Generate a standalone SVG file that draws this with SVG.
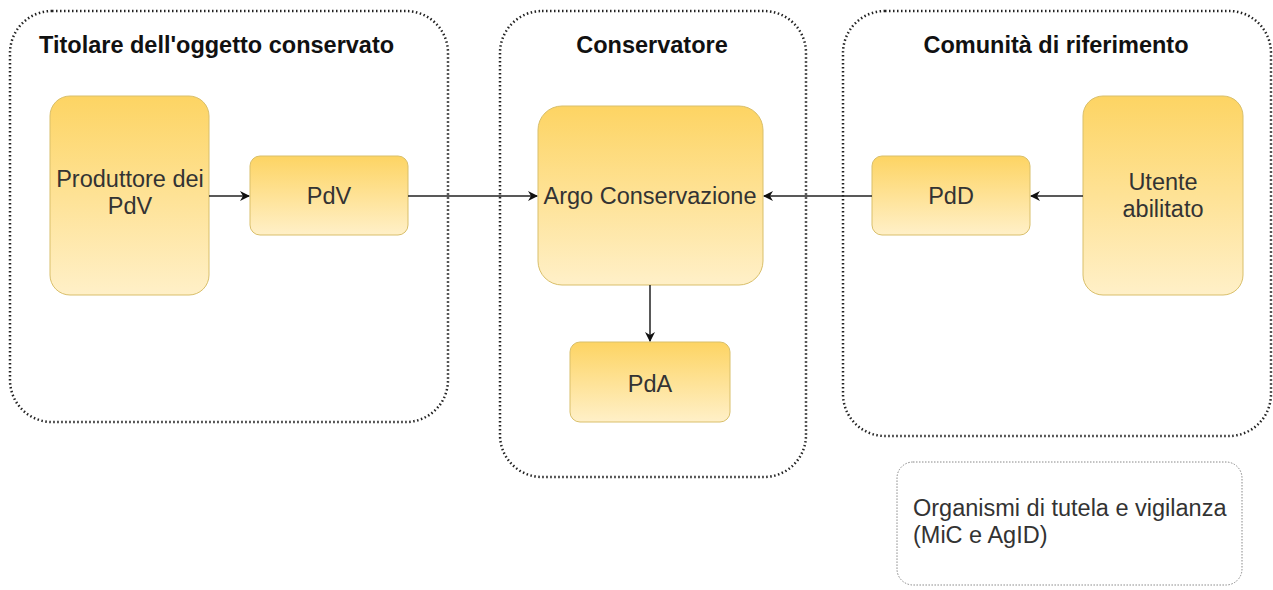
<svg xmlns="http://www.w3.org/2000/svg" width="1273" height="590" viewBox="0 0 1273 590">
<defs>
<linearGradient id="g" x1="0" y1="0" x2="0" y2="1">
<stop offset="0" stop-color="#fdd463"/>
<stop offset="1" stop-color="#fff0c8"/>
</linearGradient>
<marker id="a" viewBox="0 0 10 10" refX="9" refY="5" markerWidth="10" markerHeight="10" markerUnits="userSpaceOnUse" orient="auto">
<path d="M0,0 L10,5 L0,10 L3,5 Z" fill="#111"/>
</marker>
<style>
.cont{fill:none;stroke:#222;stroke-width:2.5;stroke-dasharray:1.5 2.5}
.node{fill:url(#g);stroke:#d9bf6a;stroke-width:1}
.t{font-family:"Liberation Sans",Arial,sans-serif;font-size:23.5px;fill:#333;text-anchor:middle}
.l{font-family:"Liberation Sans",Arial,sans-serif;font-size:23.5px;fill:#333;text-anchor:start}
.h{font-family:"Liberation Sans",Arial,sans-serif;font-size:23.5px;font-weight:bold;fill:#111}
.hc{font-family:"Liberation Sans",Arial,sans-serif;font-size:23.5px;font-weight:bold;fill:#111;text-anchor:middle}
.e{stroke:#222;stroke-width:1.5;fill:none;marker-end:url(#a)}
</style>
</defs>
<rect width="1273" height="590" fill="#fff"/>
<g id="titolare">
<rect class="cont" x="10" y="11" width="438" height="411" rx="42"/>
<text class="h" x="39" y="53">Titolare dell'oggetto conservato</text>
</g>
<g id="conservatore">
<rect class="cont" x="500" y="11" width="306" height="466" rx="42"/>
<text class="hc" x="652" y="53">Conservatore</text>
</g>
<g id="comunita">
<rect class="cont" x="843" y="11" width="428" height="425" rx="42"/>
<text class="hc" x="1056" y="53">Comunità di riferimento</text>
</g>
<g id="produttore">
<rect class="node" x="50" y="96" width="159" height="199" rx="20"/>
<text class="t" x="130" y="187">Produttore dei</text>
<text class="t" x="130" y="214">PdV</text>
</g>
<g id="pdv">
<rect class="node" x="250" y="156" width="158" height="79" rx="10"/>
<text class="t" x="329" y="204">PdV</text>
</g>
<g id="argo">
<rect class="node" x="538" y="106" width="225" height="179" rx="24"/>
<text class="t" x="650" y="204">Argo Conservazione</text>
</g>
<g id="pda">
<rect class="node" x="570" y="342" width="160" height="80" rx="10"/>
<text class="t" x="650" y="392">PdA</text>
</g>
<g id="pdd">
<rect class="node" x="872" y="156" width="158" height="79" rx="10"/>
<text class="t" x="951" y="204">PdD</text>
</g>
<g id="utente">
<rect class="node" x="1083" y="96" width="160" height="199" rx="20"/>
<text class="t" x="1163" y="190">Utente</text>
<text class="t" x="1163" y="217">abilitato</text>
</g>
<g id="organismi">
<rect x="897" y="462" width="345" height="123" rx="16" fill="none" stroke="#888" stroke-width="1" stroke-dasharray="1.5 1.5"/>
<text class="l" x="913" y="516">Organismi di tutela e vigilanza</text>
<text class="l" x="913" y="543">(MiC e AgID)</text>
</g>
<g id="connectors">
<line class="e" x1="209" y1="196" x2="249" y2="196"/>
<line class="e" x1="408" y1="196" x2="537" y2="196"/>
<line class="e" x1="1083" y1="196" x2="1031" y2="196"/>
<line class="e" x1="872" y1="196" x2="764" y2="196"/>
<line class="e" x1="650" y1="285" x2="650" y2="341"/>
</g>
</svg>
